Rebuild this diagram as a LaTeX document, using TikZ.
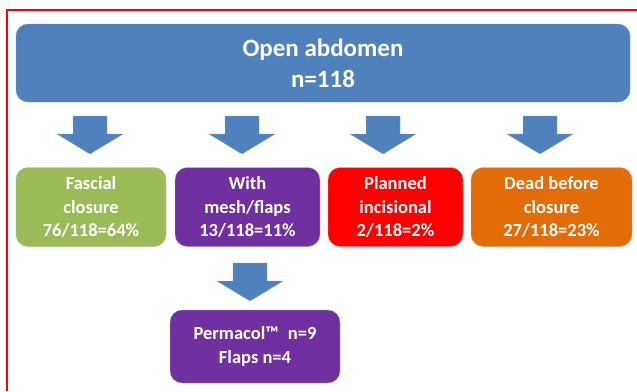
\documentclass[tikz,border=0pt]{standalone}
\usepackage{fontspec}
\setmainfont{Carlito}
\usetikzlibrary{positioning}
\definecolor{headblue}{HTML}{4F81BD}
\definecolor{edgeblue}{HTML}{3A6496}
\definecolor{fascgreen}{HTML}{9BBB59}
\definecolor{meshpurple}{HTML}{7030A0}
\definecolor{planred}{HTML}{FF0000}
\definecolor{deadorange}{HTML}{E36C09}
\definecolor{framered}{HTML}{FF0000}

\begin{document}
\begin{tikzpicture}[
    x=1pt, y=-1pt,
    every node/.style={
        text=white,
        font=\bfseries\fontsize{18.5}{23.5}\selectfont,
        align=center,
        rounded corners=12pt,
        draw=gray!60,
        minimum height=79pt},
    pics/downarrow/.style={code={
        \fill[headblue, draw=edgeblue!60, line width=0.4pt, sharp corners]
            (-17,0) -- (17,0) -- (17,18) -- (33,18) -- (0,38)
            -- (-33,18) -- (-17,18) -- cycle;}}]
    \useasboundingbox (0,0) rectangle (637,391);
    \draw[framered, line width=2.4pt] (7,391) -- (7,10) -- (637,10);

    \node[fill=headblue, draw=edgeblue!70, minimum width=614pt, minimum height=78pt,
        font=\bfseries\fontsize{25}{31}\selectfont] (open) at (323,63) {Open abdomen\\n=118};

    \node[fill=fascgreen, minimum width=150pt] (fascial) at (91,207) {Fascial\\closure\\76/118=64\%};
    \node[fill=meshpurple, minimum width=145pt] (mesh) at (247.5,207) {With\\mesh/flaps\\13/118=11\%};
    \node[fill=planred, minimum width=135pt] (planned) at (395.5,207) {Planned\\incisional\\2/118=2\%};
    \node[fill=deadorange, minimum width=161pt] (dead) at (551.5,207) {Dead before\\closure\\27/118=23\%};
    \node[fill=meshpurple, minimum width=170pt, minimum height=73pt] (permacol) at (255,346.5) {Permacol™\enspace n=9\\Flaps n=4};

    % block arrows between the rows
    \pic at (90,116) {downarrow};
    \pic at (242,116) {downarrow};
    \pic at (383,116) {downarrow};
    \pic at (540,116) {downarrow};
    \pic at (250,263) {downarrow};
\end{tikzpicture}
\end{document}
